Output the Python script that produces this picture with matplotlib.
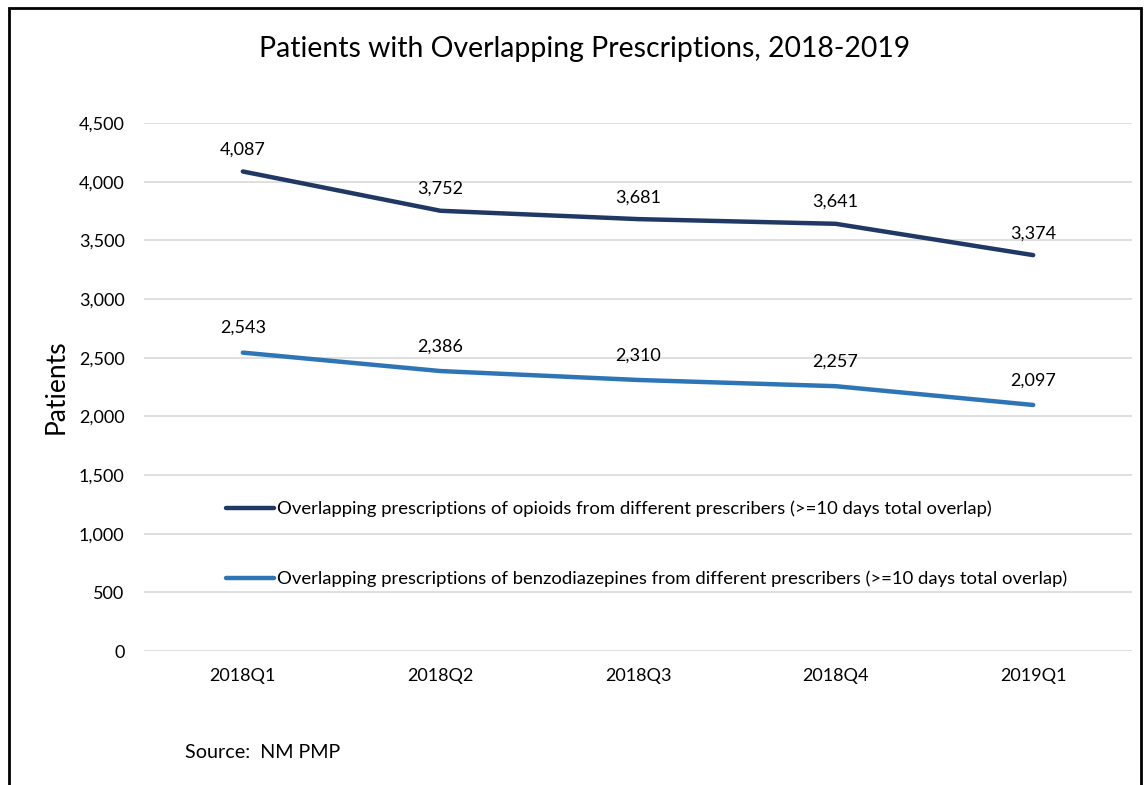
import matplotlib.pyplot as plt
from matplotlib.patches import Rectangle

# data
quarters = ["2018Q1", "2018Q2", "2018Q3", "2018Q4", "2019Q1"]
opioids = [4087, 3752, 3681, 3641, 3374]
benzos = [2543, 2386, 2310, 2257, 2097]
opioid_label = "Overlapping prescriptions of opioids from different prescribers (>=10 days total overlap)"
benzo_label = "Overlapping prescriptions of benzodiazepines from different prescribers (>=10 days total overlap)"
y_ticks = [0, 500, 1000, 1500, 2000, 2500, 3000, 3500, 4000, 4500]

plt.rcParams["font.family"] = ["Lato", "DejaVu Sans"]

fig = plt.figure(figsize=(11.44, 7.85), dpi=100)
ax = fig.add_axes([0.1259, 0.1707, 0.8636, 0.6726])

x = list(range(len(quarters)))
ax.plot(x, opioids, color="#203864", linewidth=3.2, solid_capstyle="round", label=opioid_label)
ax.plot(x, benzos, color="#2E75B6", linewidth=3.2, solid_capstyle="round", label=benzo_label)

for xi, v in zip(x, opioids):
    ax.annotate(f"{v:,}", (xi, v), xytext=(0, 10), textcoords="offset points",
                ha="center", va="bottom", fontsize=13, color="#000000")
for xi, v in zip(x, benzos):
    ax.annotate(f"{v:,}", (xi, v), xytext=(0, 12), textcoords="offset points",
                ha="center", va="bottom", fontsize=13, color="#000000")

ax.set_xlim(-0.5, len(quarters) - 0.5)
ax.set_ylim(0, 4500)
ax.set_yticks(y_ticks)
ax.set_yticklabels([f"{t:,}" for t in y_ticks], fontsize=13)
ax.set_xticks(x)
ax.set_xticklabels(quarters, fontsize=13)
ax.tick_params(length=0, pad=14)
ax.tick_params(axis="x", pad=12)
ax.grid(axis="y", color="#D9D9D9", linewidth=1.2)
ax.set_axisbelow(True)
for s in ax.spines.values():
    s.set_visible(False)

ax.set_ylabel("Patients", fontsize=19, labelpad=7)

ax.legend(loc="upper left", bbox_to_anchor=(0.066, 0.316), frameon=False,
          fontsize=13.3, handlelength=2.6, handletextpad=0.15, labelspacing=2.9)

fig.text(0.511, 0.938, "Patients with Overlapping Prescriptions, 2018-2019",
         ha="center", va="center", fontsize=20.4)
fig.text(0.162, 0.042, "Source:  NM PMP", ha="left", va="center", fontsize=14.2)

# chart border
fig.patches.append(Rectangle((9 / 1144, -0.01), 1132 / 1144, 1 - 8 / 785 + 0.01,
                             transform=fig.transFigure, fill=False,
                             edgecolor="black", linewidth=2))

fig.savefig("out.png", dpi=100)
